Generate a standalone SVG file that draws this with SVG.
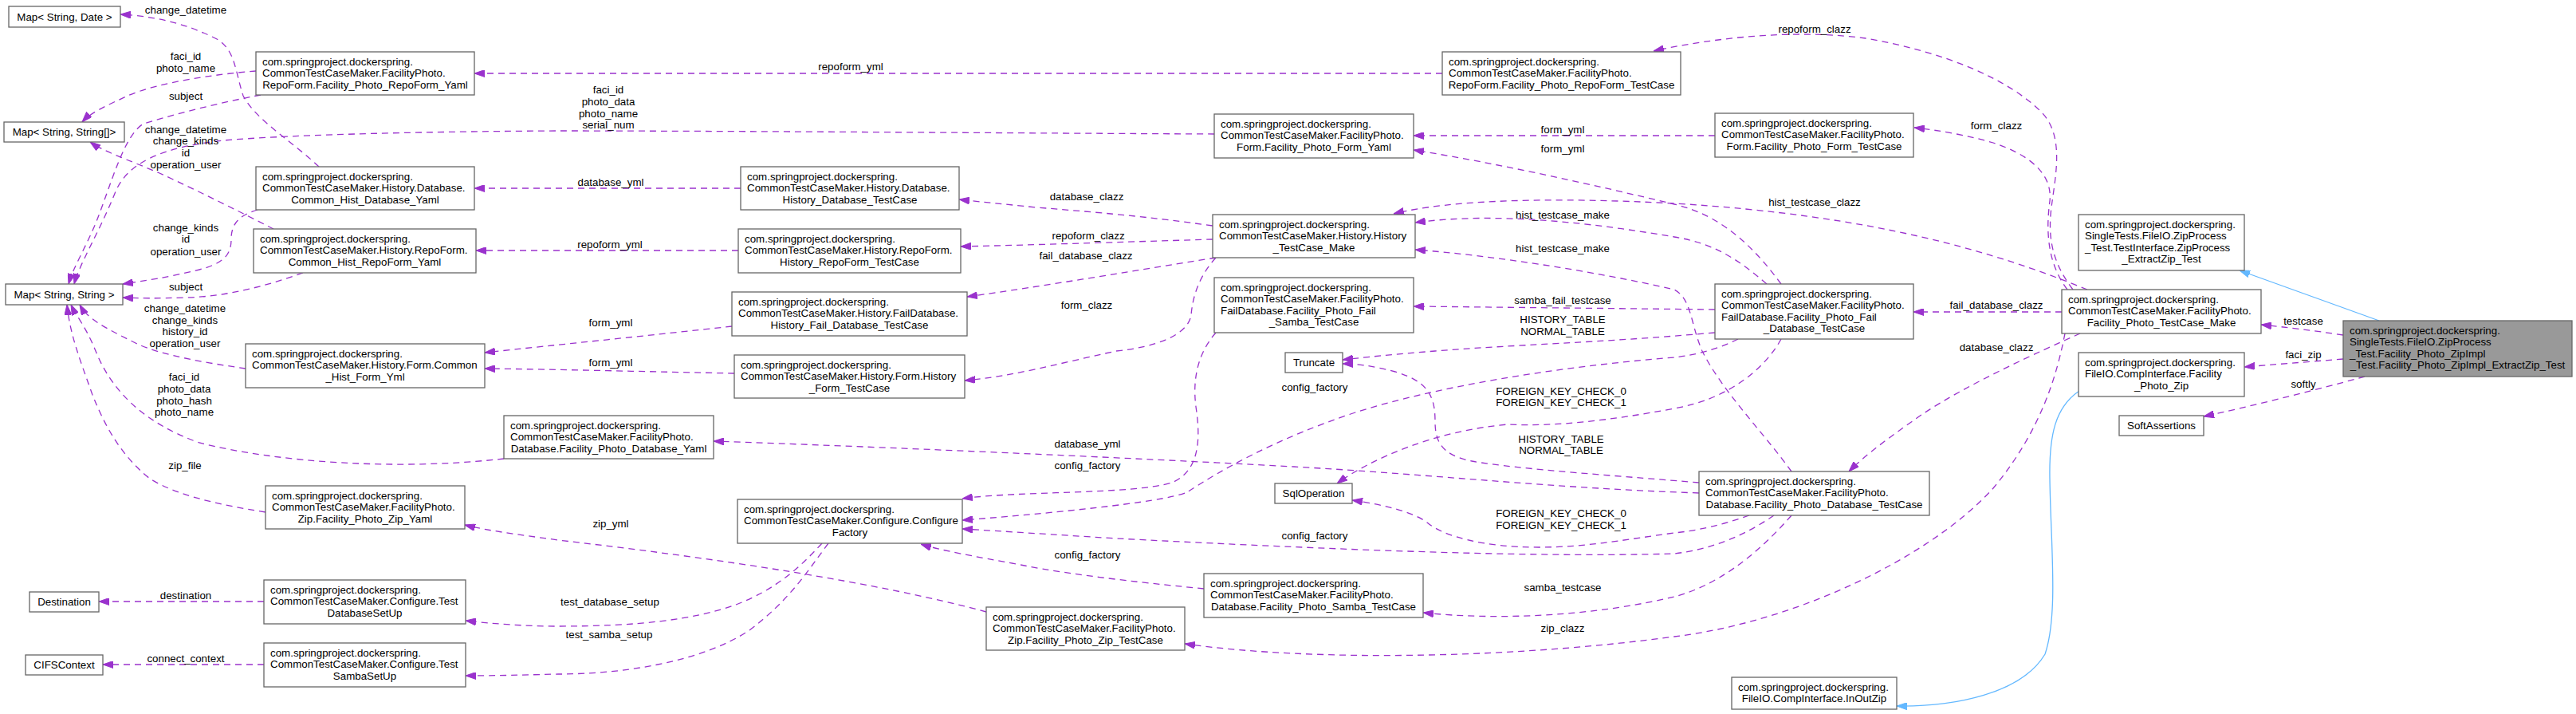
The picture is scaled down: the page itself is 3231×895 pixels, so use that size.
<svg xmlns="http://www.w3.org/2000/svg" width="3231" height="895" viewBox="0 0 3231 895">
<style>
rect{fill:#fff;stroke:#666;stroke-width:1.3}
text{font-family:"Liberation Sans",Arial,sans-serif;font-size:13.33px;fill:#000}
.c{text-anchor:middle}
.d{fill:none;stroke:#9a32cd;stroke-width:1.3;stroke-dasharray:8,6;marker-end:url(#a)}
.i{fill:none;stroke:#63b8ff;stroke-width:1.3;marker-end:url(#b)}
#n_main rect{fill:#999}
</style>
<defs>
<marker id="a" viewBox="0 0 13 9" refX="13" refY="4.5" markerWidth="13" markerHeight="9" markerUnits="userSpaceOnUse" orient="auto"><path d="M0,0L13,4.5L0,9z" fill="#9a32cd" stroke="#9a32cd"/></marker>
<marker id="b" viewBox="0 0 13 9" refX="13" refY="4.5" markerWidth="13" markerHeight="9" markerUnits="userSpaceOnUse" orient="auto"><path d="M0,0L13,4.5L0,9z" fill="#63b8ff" stroke="#63b8ff"/></marker>
</defs>
<rect x="0" y="0" width="3231" height="895" style="fill:#fff;stroke:none"/>
<g id="edges">
<path class="i" d="M2984,402 L2809,339"/>
<path class="d" d="M2939,420 C2900,414 2865,410 2836,407"/><text class="c" x="2889" y="407">testcase</text>
<path class="d" d="M2939,450 C2890,454 2850,457 2815,460"/><text class="c" x="2889" y="448.5">faci_zip</text>
<path class="d" d="M2966,472 C2900,490 2820,510 2764,522"/><text class="c" x="2889" y="485.5">softly</text>
<path class="i" d="M2608,490 C2578,510 2570,545 2571,600 C2572,680 2582,770 2565,820 C2535,870 2450,886 2379,885"/>
<path class="d" d="M2600,363 C2575,330 2568,300 2573,260 C2578,220 2590,170 2560,140 C2520,100 2440,65 2340,48 C2260,37 2160,45 2074,64"/><text class="c" x="2276" y="41">repoform_clazz</text>
<path class="d" d="M2593,363 C2568,330 2566,290 2571,252 C2575,215 2540,192 2500,179 C2470,170 2430,163 2401,160"/><text class="c" x="2504" y="161.5">form_clazz</text>
<path class="d" d="M2618,363 C2500,315 2350,270 2100,255 C1950,247 1820,250 1748,268"/><text class="c" x="2276" y="257.5">hist_testcase_clazz</text>
<path class="d" d="M2586,391 L2400,391"/><text class="c" x="2504" y="386.5">fail_database_clazz</text>
<path class="d" d="M2609,418 C2560,440 2470,480 2410,520 C2370,548 2340,570 2319,591"/><text class="c" x="2504" y="439.5">database_clazz</text>
<path class="d" d="M2590,418 C2580,470 2560,540 2500,612 C2420,700 2250,780 2100,798 C1900,825 1650,830 1486,807"/><text class="c" x="1960" y="791.5">zip_clazz</text>
<path class="d" d="M2151,170 L1773,170"/><text class="c" x="1960" y="167">form_yml</text>
<path class="d" d="M1809,92 L595,92"/><text class="c" x="1067" y="87.5">repoform_yml</text>
<path class="d" d="M2234,356 C2200,310 2160,270 2100,256 C2000,232 1880,205 1773,188"/><text class="c" x="1960" y="191">form_yml</text>
<path class="d" d="M2216,356 C2180,325 2150,305 2100,297 C2000,280 1880,265 1775,279"/><text class="c" x="1960" y="273.5">hist_testcase_make</text>
<path class="d" d="M2151,388 L1773,384"/><text class="c" x="1960" y="381">samba_fail_testcase</text>
<path class="d" d="M2151,417 C2000,430 1900,432 1800,440 C1750,444 1710,448 1684,451"/><text class="c" x="1960" y="404.5">HISTORY_TABLE</text><text class="c" x="1960" y="419.5">NORMAL_TABLE</text>
<path class="d" d="M2234,425 C2215,460 2170,500 2100,512 C2020,527 1950,535 1891,532 C1800,540 1720,575 1677,606"/><text class="c" x="1958" y="494.5">FOREIGN_KEY_CHECK_0</text><text class="c" x="1958" y="509">FOREIGN_KEY_CHECK_1</text>
<path class="d" d="M2180,425 C2150,440 2120,446 2100,448 C1950,460 1800,485 1700,517 C1600,550 1530,590 1489,617 C1460,630 1300,645 1207,652"/><text class="c" x="1649" y="489.5">config_factory</text>
<path class="d" d="M2247,591 C2210,540 2160,490 2135,440 C2120,405 2122,375 2100,363 C2000,340 1870,320 1775,313"/><text class="c" x="1960" y="316">hist_testcase_make</text>
<path class="d" d="M2131,605 C2050,598 1900,588 1846,578 C1805,570 1800,550 1800,528 C1800,495 1790,478 1750,466 C1720,458 1700,456 1684,456"/><text class="c" x="1958" y="554.5">HISTORY_TABLE</text><text class="c" x="1958" y="569">NORMAL_TABLE</text>
<path class="d" d="M2131,618 C1950,612 1800,595 1623,585 C1400,573 1100,560 895,553"/><text class="c" x="1364" y="561">database_yml</text>
<path class="d" d="M2194,646 C2160,658 2130,665 2100,668 C2040,676 1990,686 1930,686 C1860,686 1810,672 1790,655 C1770,640 1730,632 1696,627"/><text class="c" x="1958" y="647.5">FOREIGN_KEY_CHECK_0</text><text class="c" x="1958" y="662.5">FOREIGN_KEY_CHECK_1</text>
<path class="d" d="M2225,646 C2190,670 2150,688 2100,694 C1900,700 1600,685 1400,675 C1320,670 1260,666 1207,663"/><text class="c" x="1649" y="676">config_factory</text>
<path class="d" d="M2247,646 C2200,700 2150,735 2100,748 C2000,772 1880,778 1785,768"/><text class="c" x="1960" y="741">samba_testcase</text>
<path class="d" d="M1525,417 C1505,440 1495,470 1500,510 C1506,550 1505,590 1470,605 C1420,620 1280,615 1207,625"/><text class="c" x="1364" y="588">config_factory</text>
<path class="d" d="M1510,738 C1450,732 1350,722 1280,708 C1220,697 1180,690 1155,682"/><text class="c" x="1364" y="699.5">config_factory</text>
<path class="d" d="M1237,767 C1100,730 900,700 700,677 C650,670 610,665 583,658"/><text class="c" x="766" y="661">zip_yml</text>
<path class="d" d="M1031,681 C1000,715 970,740 923,758 C870,777 800,785 700,785 C660,785 620,782 584,778"/><text class="c" x="765" y="758.5">test_database_setup</text>
<path class="d" d="M1039,681 C1010,720 990,752 940,790 C880,830 780,845 700,845 C660,846 620,847 584,847"/><text class="c" x="764" y="800">test_samba_setup</text>
<path class="d" d="M1521,283 C1450,273 1400,268 1300,260 C1250,255 1220,252 1203,250"/><text class="c" x="1363" y="251">database_clazz</text>
<path class="d" d="M1521,300 C1450,302 1300,307 1205,309"/><text class="c" x="1365" y="299.5">repoform_clazz</text>
<path class="d" d="M1525,323 C1450,335 1300,360 1213,372"/><text class="c" x="1362" y="325">fail_database_clazz</text>
<path class="d" d="M1525,323 C1505,345 1496,370 1494,395 C1490,420 1450,435 1400,440 C1330,455 1270,472 1210,477"/><text class="c" x="1363" y="387">form_clazz</text>
<path class="d" d="M929,236 L595,236"/><text class="c" x="766" y="232.5">database_yml</text>
<path class="d" d="M926,314 L597,314"/><text class="c" x="765" y="310.5">repoform_yml</text>
<path class="d" d="M918,409 C820,420 700,432 608,442"/><text class="c" x="766" y="408.5">form_yml</text>
<path class="d" d="M921,468 C820,466 700,463 608,462"/><text class="c" x="766" y="458.5">form_yml</text>
<path class="d" d="M400,209 C370,180 320,150 305,120 C295,90 295,60 270,48 C230,28 190,20 151,18"/><text class="c" x="233" y="16.5">change_datetime</text>
<path class="d" d="M321,89 C270,93 200,103 160,120 C135,132 115,140 103,153"/><text class="c" x="233" y="75">faci_id</text><text class="c" x="233" y="89.5">photo_name</text>
<path class="d" d="M327,119 C280,128 230,140 180,155 C155,170 140,230 120,280 C105,315 92,335 86,356"/><text class="c" x="233" y="125">subject</text>
<path class="d" d="M1523,168 C1300,167 900,164 700,164 C500,165 350,170 280,176 C200,185 160,205 145,240 C125,290 100,330 93,356"/><text class="c" x="763" y="117">faci_id</text><text class="c" x="763" y="132">photo_data</text><text class="c" x="763" y="147">photo_name</text><text class="c" x="763" y="161">serial_num</text>
<path class="d" d="M343,287 C300,265 250,240 200,217 C160,200 130,190 113,178"/><text class="c" x="233" y="167">change_datetime</text><text class="c" x="233" y="181">change_kinds</text><text class="c" x="233" y="196">id</text><text class="c" x="233" y="211">operation_user</text>
<path class="d" d="M323,263 C300,270 290,280 290,300 C290,320 280,330 250,338 C210,348 180,352 154,356"/><text class="c" x="233" y="289.5">change_kinds</text><text class="c" x="233" y="304">id</text><text class="c" x="233" y="319.5">operation_user</text>
<path class="d" d="M380,342 C330,360 280,372 233,373 C200,374 175,374 154,373"/><text class="c" x="233" y="363.5">subject</text>
<path class="d" d="M308,462 C260,455 200,445 170,430 C130,410 110,400 100,382"/><text class="c" x="232" y="391">change_datetime</text><text class="c" x="232" y="405.5">change_kinds</text><text class="c" x="232" y="420">history_id</text><text class="c" x="232" y="435">operation_user</text>
<path class="d" d="M632,575 C500,590 350,580 250,555 C180,530 140,490 120,440 C108,410 95,395 89,382"/><text class="c" x="231" y="477">faci_id</text><text class="c" x="231" y="492">photo_data</text><text class="c" x="231" y="507">photo_hash</text><text class="c" x="231" y="521">photo_name</text>
<path class="d" d="M333,642 C270,632 220,620 188,600 C150,570 130,530 116,495 C100,450 88,420 84,382"/><text class="c" x="232" y="588">zip_file</text>
<path class="d" d="M331,754 L124,754"/><text class="c" x="233" y="751">destination</text>
<path class="d" d="M331,833 L129,833"/><text class="c" x="233" y="829.5">connect_context</text>
</g>
<g id="n_date"><rect x="11" y="8" width="140" height="26"/><text class="c" x="81" y="25.5">Map&lt; String, Date &gt;</text></g>
<g id="n_strarr"><rect x="5" y="153" width="151" height="25"/><text class="c" x="80.5" y="170">Map&lt; String, String[]&gt;</text></g>
<g id="n_str"><rect x="7" y="356" width="147" height="26"/><text class="c" x="80.5" y="373.5">Map&lt; String, String &gt;</text></g>
<g id="n_fp_repoyaml"><rect x="321" y="65" width="274" height="54"/><text><tspan x="329" y="81.5">com.springproject.dockerspring.</tspan><tspan x="329" y="96">CommonTestCaseMaker.FacilityPhoto.</tspan><tspan class="c" x="458" y="110.5">RepoForm.Facility_Photo_RepoForm_Yaml</tspan></text></g>
<g id="n_hist_dbyaml"><rect x="321" y="209" width="274" height="54"/><text><tspan x="329" y="225.5">com.springproject.dockerspring.</tspan><tspan x="329" y="240">CommonTestCaseMaker.History.Database.</tspan><tspan class="c" x="458" y="254.5">Common_Hist_Database_Yaml</tspan></text></g>
<g id="n_hist_repoyaml"><rect x="318" y="287" width="279" height="55"/><text><tspan x="326" y="303.5">com.springproject.dockerspring.</tspan><tspan x="326" y="318">CommonTestCaseMaker.History.RepoForm.</tspan><tspan class="c" x="457.5" y="332.5">Common_Hist_RepoForm_Yaml</tspan></text></g>
<g id="n_hist_formyml"><rect x="308" y="431" width="300" height="55"/><text><tspan x="316" y="447.5">com.springproject.dockerspring.</tspan><tspan x="316" y="462">CommonTestCaseMaker.History.Form.Common</tspan><tspan class="c" x="458" y="476.5">_Hist_Form_Yml</tspan></text></g>
<g id="n_fp_dbyaml"><rect x="632" y="521" width="263" height="54"/><text><tspan x="640" y="537.5">com.springproject.dockerspring.</tspan><tspan x="640" y="552">CommonTestCaseMaker.FacilityPhoto.</tspan><tspan class="c" x="763.5" y="566.5">Database.Facility_Photo_Database_Yaml</tspan></text></g>
<g id="n_fp_zipyaml"><rect x="333" y="609" width="250" height="54"/><text><tspan x="341" y="625.5">com.springproject.dockerspring.</tspan><tspan x="341" y="640">CommonTestCaseMaker.FacilityPhoto.</tspan><tspan class="c" x="458" y="654.5">Zip.Facility_Photo_Zip_Yaml</tspan></text></g>
<g id="n_dest"><rect x="37" y="742" width="87" height="25"/><text class="c" x="80.5" y="759">Destination</text></g>
<g id="n_cifs"><rect x="32" y="821" width="97" height="25"/><text class="c" x="80.5" y="838">CIFSContext</text></g>
<g id="n_testdb"><rect x="331" y="727" width="253" height="55"/><text><tspan x="339" y="743.5">com.springproject.dockerspring.</tspan><tspan x="339" y="758">CommonTestCaseMaker.Configure.Test</tspan><tspan class="c" x="457.5" y="772.5">DatabaseSetUp</tspan></text></g>
<g id="n_testsamba"><rect x="331" y="806" width="253" height="55"/><text><tspan x="339" y="822.5">com.springproject.dockerspring.</tspan><tspan x="339" y="837">CommonTestCaseMaker.Configure.Test</tspan><tspan class="c" x="457.5" y="851.5">SambaSetUp</tspan></text></g>
<g id="n_hist_dbtc"><rect x="929" y="209" width="274" height="54"/><text><tspan x="937" y="225.5">com.springproject.dockerspring.</tspan><tspan x="937" y="240">CommonTestCaseMaker.History.Database.</tspan><tspan class="c" x="1066" y="254.5">History_Database_TestCase</tspan></text></g>
<g id="n_hist_repotc"><rect x="926" y="287" width="279" height="55"/><text><tspan x="934" y="303.5">com.springproject.dockerspring.</tspan><tspan x="934" y="318">CommonTestCaseMaker.History.RepoForm.</tspan><tspan class="c" x="1065.5" y="332.5">History_RepoForm_TestCase</tspan></text></g>
<g id="n_hist_faildbtc"><rect x="918" y="366" width="295" height="55"/><text><tspan x="926" y="382.5">com.springproject.dockerspring.</tspan><tspan x="926" y="397">CommonTestCaseMaker.History.FailDatabase.</tspan><tspan class="c" x="1065.5" y="411.5">History_Fail_Database_TestCase</tspan></text></g>
<g id="n_hist_formtc"><rect x="921" y="445" width="289" height="54"/><text><tspan x="929" y="461.5">com.springproject.dockerspring.</tspan><tspan x="929" y="476">CommonTestCaseMaker.History.Form.History</tspan><tspan class="c" x="1065.5" y="490.5">_Form_TestCase</tspan></text></g>
<g id="n_cfgfactory"><rect x="925" y="626" width="282" height="55"/><text><tspan x="933" y="642.5">com.springproject.dockerspring.</tspan><tspan x="933" y="657">CommonTestCaseMaker.Configure.Configure</tspan><tspan class="c" x="1066" y="671.5">Factory</tspan></text></g>
<g id="n_fp_ziptc"><rect x="1237" y="761" width="249" height="54"/><text><tspan x="1245" y="777.5">com.springproject.dockerspring.</tspan><tspan x="1245" y="792">CommonTestCaseMaker.FacilityPhoto.</tspan><tspan class="c" x="1361.5" y="806.5">Zip.Facility_Photo_Zip_TestCase</tspan></text></g>
<g id="n_fp_repotc"><rect x="1809" y="65" width="299" height="54"/><text><tspan x="1817" y="81.5">com.springproject.dockerspring.</tspan><tspan x="1817" y="96">CommonTestCaseMaker.FacilityPhoto.</tspan><tspan class="c" x="1958.5" y="110.5">RepoForm.Facility_Photo_RepoForm_TestCase</tspan></text></g>
<g id="n_fp_formyaml"><rect x="1523" y="143" width="250" height="55"/><text><tspan x="1531" y="159.5">com.springproject.dockerspring.</tspan><tspan x="1531" y="174">CommonTestCaseMaker.FacilityPhoto.</tspan><tspan class="c" x="1648" y="188.5">Form.Facility_Photo_Form_Yaml</tspan></text></g>
<g id="n_hist_make"><rect x="1521" y="269" width="254" height="54"/><text><tspan x="1529" y="285.5">com.springproject.dockerspring.</tspan><tspan x="1529" y="300">CommonTestCaseMaker.History.History</tspan><tspan class="c" x="1648" y="314.5">_TestCase_Make</tspan></text></g>
<g id="n_fp_failsamba"><rect x="1523" y="348" width="250" height="69"/><text><tspan x="1531" y="364.5">com.springproject.dockerspring.</tspan><tspan x="1531" y="379">CommonTestCaseMaker.FacilityPhoto.</tspan><tspan x="1531" y="393.5">FailDatabase.Facility_Photo_Fail</tspan><tspan class="c" x="1648" y="408">_Samba_TestCase</tspan></text></g>
<g id="n_truncate"><rect x="1612" y="442" width="72" height="25"/><text class="c" x="1648" y="459">Truncate</text></g>
<g id="n_sqlop"><rect x="1599" y="606" width="97" height="25"/><text class="c" x="1647.5" y="623">SqlOperation</text></g>
<g id="n_fp_sambatc"><rect x="1510" y="719" width="275" height="55"/><text><tspan x="1518" y="735.5">com.springproject.dockerspring.</tspan><tspan x="1518" y="750">CommonTestCaseMaker.FacilityPhoto.</tspan><tspan class="c" x="1647.5" y="764.5">Database.Facility_Photo_Samba_TestCase</tspan></text></g>
<g id="n_fp_formtc"><rect x="2151" y="142" width="249" height="55"/><text><tspan x="2159" y="158.5">com.springproject.dockerspring.</tspan><tspan x="2159" y="173">CommonTestCaseMaker.FacilityPhoto.</tspan><tspan class="c" x="2275.5" y="187.5">Form.Facility_Photo_Form_TestCase</tspan></text></g>
<g id="n_iface"><rect x="2607" y="269" width="208" height="70"/><text><tspan x="2615" y="285.5">com.springproject.dockerspring.</tspan><tspan x="2615" y="300">SingleTests.FileIO.ZipProcess</tspan><tspan x="2615" y="314.5">_Test.TestInterface.ZipProcess</tspan><tspan class="c" x="2711" y="329">_ExtractZip_Test</tspan></text></g>
<g id="n_fp_faildbtc"><rect x="2151" y="356" width="249" height="69"/><text><tspan x="2159" y="372.5">com.springproject.dockerspring.</tspan><tspan x="2159" y="387">CommonTestCaseMaker.FacilityPhoto.</tspan><tspan x="2159" y="401.5">FailDatabase.Facility_Photo_Fail</tspan><tspan class="c" x="2275.5" y="416">_Database_TestCase</tspan></text></g>
<g id="n_fp_make"><rect x="2586" y="363" width="250" height="55"/><text><tspan x="2594" y="379.5">com.springproject.dockerspring.</tspan><tspan x="2594" y="394">CommonTestCaseMaker.FacilityPhoto.</tspan><tspan class="c" x="2711" y="408.5">Facility_Photo_TestCase_Make</tspan></text></g>
<g id="n_fpzip"><rect x="2607" y="442" width="208" height="55"/><text><tspan x="2615" y="458.5">com.springproject.dockerspring.</tspan><tspan x="2615" y="473">FileIO.CompInterface.Facility</tspan><tspan class="c" x="2711" y="487.5">_Photo_Zip</tspan></text></g>
<g id="n_soft"><rect x="2658" y="521" width="106" height="25"/><text class="c" x="2711" y="538">SoftAssertions</text></g>
<g id="n_fp_dbtc"><rect x="2131" y="591" width="289" height="55"/><text><tspan x="2139" y="607.5">com.springproject.dockerspring.</tspan><tspan x="2139" y="622">CommonTestCaseMaker.FacilityPhoto.</tspan><tspan class="c" x="2275.5" y="636.5">Database.Facility_Photo_Database_TestCase</tspan></text></g>
<g id="n_inoutzip"><rect x="2172" y="849" width="207" height="40"/><text><tspan x="2180" y="865.5">com.springproject.dockerspring.</tspan><tspan class="c" x="2275.5" y="880">FileIO.CompInterface.InOutZip</tspan></text></g>
<g id="n_main"><rect x="2939" y="402" width="287" height="70"/><text><tspan x="2947" y="418.5">com.springproject.dockerspring.</tspan><tspan x="2947" y="433">SingleTests.FileIO.ZipProcess</tspan><tspan x="2947" y="447.5">_Test.Facility_Photo_ZipImpl</tspan><tspan class="c" x="3082.5" y="462">_Test.Facility_Photo_ZipImpl_ExtractZip_Test</tspan></text></g>
</svg>
